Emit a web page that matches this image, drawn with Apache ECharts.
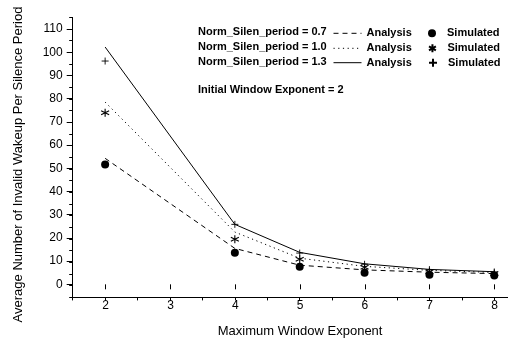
<!DOCTYPE html>
<html>
<head>
<meta charset="utf-8">
<script src="https://cdn.jsdelivr.net/npm/echarts@6/dist/echarts.min.js"></script>
<style>
html,body{margin:0;padding:0;background:#fff;}
#c{width:508px;height:343px;}
</style>
</head>
<body>
<div id="c"></div>
<script>
// ---- data ----
const xValues = [2, 4, 5, 6, 7, 8];
const analysis07 = [54.6, 16.0, 8.8, 6.8, 5.8, 5.2];
const simulated07 = [52.0, 14.1, 8.1, 5.6, 4.7, 4.4];
const analysis10 = [78.7, 23.0, 11.8, 8.3, 6.6, 5.7];
const simulated10 = [74.1, 19.9, 11.4, 7.9, 6.0, 5.2];
const analysis13 = [102.3, 26.3, 14.3, 9.4, 7.0, 6.0];
const simulated13 = [96.3, 26.3, 14.0, 9.2, 6.9, 5.9];
const groupLabels = ['Norm_Silen_period = 0.7', 'Norm_Silen_period = 1.0', 'Norm_Silen_period = 1.3'];
const noteText = 'Initial Window Exponent = 2';
const xTitle = 'Maximum Window Exponent';
const yTitle = 'Average Number of Invalid Wakeup Per Silence Period';
const xTicks = [2, 3, 4, 5, 6, 7, 8];
const yTicks = [0, 10, 20, 30, 40, 50, 60, 70, 80, 90, 100, 110];

const pairs = (ys) => xValues.map((x, i) => [x, ys[i]]);
const FONT = 'Liberation Sans, Arial, sans-serif';
const BLACK = '#000';

const analysisSeries = [
  { id: 'A07', data: analysis07, type: [5, 4] },
  { id: 'A10', data: analysis10, type: [1.2, 3.5] },
  { id: 'A13', data: analysis13, type: 'solid' }
];
const simSeries = [
  { id: 'S07', data: simulated07, symbol: 'circle', size: 8, bw: 0 },
  { id: 'S10', data: simulated10, symbol: 'path://M5 0 L5 10 M0.7 2.5 L9.3 7.5 M0.7 7.5 L9.3 2.5', size: 8, bw: 1.1 },
  { id: 'S13', data: simulated13, symbol: 'path://M0 5 L10 5 M5 0 L5 10', size: 7, bw: 0.9 }
];

const series = [];
analysisSeries.forEach(s => series.push({
  name: s.id, type: 'line', data: pairs(s.data), symbol: 'none',
  xAxisIndex: 0, yAxisIndex: 0,
  lineStyle: { color: BLACK, width: 1, type: s.type }, itemStyle: { color: BLACK },
  z: 2, animation: false
}));
simSeries.forEach(s => series.push({
  name: s.id, type: 'scatter', data: pairs(s.data), symbol: s.symbol, symbolSize: s.size,
  xAxisIndex: 0, yAxisIndex: 0,
  itemStyle: { color: BLACK, borderColor: BLACK, borderWidth: s.bw, opacity: 1 },
  z: 3, animation: false
}));

const rowY = [33.3, 48.3, 62.7];
const legends = [];
analysisSeries.forEach((s, i) => legends.push({
  data: [s.id], left: 333, top: rowY[i] - 7.5, padding: 0,
  itemWidth: 28, itemHeight: 10, formatter: () => 'Analysis',
  itemStyle: { opacity: 0 },
  lineStyle: { width: 1 },
  textStyle: { fontFamily: FONT, fontSize: 11, fontWeight: 'bold', color: BLACK, lineHeight: 15 }
}));
simSeries.forEach((s, i) => legends.push({
  data: [s.id], left: 428, top: rowY[i] - 7.5, padding: 0,
  itemWidth: 20, itemHeight: 8, formatter: () => 'Simulated',
  itemStyle: { opacity: 1 },
  textStyle: { fontFamily: FONT, fontSize: 11, fontWeight: 'bold', color: BLACK, lineHeight: 15 }
}));

const graphics = groupLabels.map((t, i) => ({
  type: 'text', left: 198, top: rowY[i] - 6.5,
  style: { text: t, font: 'bold 11px ' + FONT, fill: BLACK }
}));
graphics.push({ type: 'text', left: 198, top: 84.5, style: { text: noteText, font: 'bold 11px ' + FONT, fill: BLACK } });
graphics.push({
  type: 'text', x: 18, y: 164.5, rotation: Math.PI / 2,
  style: { text: yTitle, font: '13px ' + FONT, fill: BLACK, align: 'center', verticalAlign: 'middle' }
});

const option = {
  backgroundColor: '#fff',
  animation: false,
  grid: [
    { left: 72.7, top: 17.4, width: 435.3, height: 280, containLabel: false },
    { left: 105.7, top: 29.07, width: 388.8, height: 256.63, containLabel: false }
  ],
  xAxis: [
    { type: 'value', gridIndex: 0, min: 1.5, max: 8.2114, interval: 0.5,
      axisLine: { show: true, onZero: false, lineStyle: { color: BLACK, width: 1 } },
      axisTick: { show: true, length: 3, lineStyle: { color: BLACK } },
      axisLabel: { show: false }, splitLine: { show: false } },
    { type: 'value', gridIndex: 1, min: xTicks[0], max: xTicks[xTicks.length - 1], interval: 1, offset: 11.67,
      axisLine: { show: false }, axisTick: { show: true, length: 5, lineStyle: { color: BLACK } },
      axisLabel: { show: true, margin: 4, fontFamily: FONT, fontSize: 12, color: BLACK },
      splitLine: { show: false },
      name: xTitle, nameLocation: 'middle', nameGap: 29,
      nameTextStyle: { fontFamily: FONT, fontSize: 13, color: BLACK } }
  ],
  yAxis: [
    { type: 'value', gridIndex: 0, min: -5, max: 115, interval: 5,
      axisLine: { show: true, onZero: false, lineStyle: { color: BLACK, width: 1 } },
      axisTick: { show: true, length: 3.5, lineStyle: { color: BLACK } },
      axisLabel: { show: false }, splitLine: { show: false } },
    { type: 'value', gridIndex: 1, min: yTicks[0], max: yTicks[yTicks.length - 1], interval: 10, offset: 33,
      axisLine: { show: false }, axisTick: { show: true, length: 6, lineStyle: { color: BLACK } },
      axisLabel: { show: true, margin: 10, fontFamily: FONT, fontSize: 12, color: BLACK },
      splitLine: { show: false } }
  ],
  legend: legends,
  graphic: graphics,
  series: series
};

const chart = echarts.init(document.getElementById('c'), null, { renderer: 'canvas' });
chart.setOption(option);
</script>
</body>
</html>
